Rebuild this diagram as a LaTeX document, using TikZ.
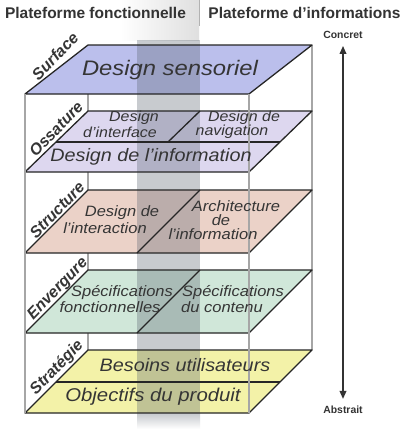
\documentclass[tikz,border=0pt]{standalone}
\usepackage{fontspec}
\setmainfont{Liberation Sans}
\usetikzlibrary{arrows.meta}
\definecolor{surfC}{HTML}{BBBFEC}
\definecolor{ossC}{HTML}{DDD7EF}
\definecolor{strC}{HTML}{EBD2C8}
\definecolor{envC}{HTML}{D0E7D9}
\definecolor{stgC}{HTML}{F3F2A8}
\definecolor{colC}{HTML}{5A6470}
\definecolor{txtC}{HTML}{353535}
\begin{document}
\begin{tikzpicture}[x=1pt,y=-1pt,
  planeline/.style={draw=black!85, line width=1.3pt, line join=round},
  boxline/.style={draw=gray!70, line width=1.4pt},
  ptext/.style={text=txtC, inner sep=0pt, xscale=1.1},
  side/.style={font=\bfseries\itshape\fontsize{16}{16}\selectfont, text=txtC, rotate=46, inner sep=0pt},
  head/.style={font=\bfseries\fontsize{15.5}{16}\selectfont, text=black!80, inner sep=0pt},
  pole/.style={font=\bfseries\fontsize{10.4}{11}\selectfont, text=black!80, inner sep=0pt},
  dblarrow/.style={draw=black!80, line width=1.8pt, {Triangle[length=8pt,width=6.5pt]}-{Triangle[length=8pt,width=6.5pt]}}
]
\useasboundingbox (0,0) rectangle (408,429);
\fill[white] (0,0) rectangle (408,429);
% header grey gradient
\shade[left color=white, right color=gray!25] (120,0) rectangle (199,40);
\draw[gray!60, line width=1pt] (199,0) -- (199,26);
% back box lines
\draw[boxline] (88,45) -- (88,350);
\draw[boxline] (312,45) -- (312,350);
% plane fills
\fill[surfC] (88,45) -- (312,45) -- (249,94) -- (25,94) -- cycle;
\fill[ossC] (88,111) -- (312,111) -- (249,172) -- (25,172) -- cycle;
\fill[strC] (88,190) -- (312,190) -- (249,253) -- (25,253) -- cycle;
\fill[envC] (88,270) -- (312,270) -- (249,333) -- (25,333) -- cycle;
\fill[stgC] (88,350) -- (312,350) -- (249,413) -- (25,413) -- cycle;
% grey column
\fill[colC, opacity=0.33] (137,40) rectangle (200,413);
\shade[top color=colC!35, bottom color=white] (137,413) rectangle (200,429);
% plane outlines
\draw[planeline] (88,45) -- (312,45) -- (249,94) -- (25,94) -- cycle;
\draw[planeline] (88,111) -- (312,111) -- (249,172) -- (25,172) -- cycle;
\draw[planeline] (56,142) -- (280,142);
\draw[planeline] (200,111) -- (168,142);
\draw[planeline] (88,190) -- (312,190) -- (249,253) -- (25,253) -- cycle;
\draw[planeline] (200,190) -- (137,253);
\draw[planeline] (88,270) -- (312,270) -- (249,333) -- (25,333) -- cycle;
\draw[planeline] (200,270) -- (137,333);
\draw[planeline] (88,350) -- (312,350) -- (249,413) -- (25,413) -- cycle;
\draw[planeline] (56,382) -- (280,382);
% front box lines
\draw[boxline] (25,94) -- (25,413);
\draw[boxline] (249,94) -- (249,413);
% header
\node[head] (hf) at (95.5,13) {Plateforme fonctionnelle};
\node[head] (hi) at (304.5,13) {Plateforme d'informations};
% side labels
\node[side] (lsurf) at (55,56) {Surface};
\node[side] (loss) at (56,129) {Ossature};
\node[side] (lstr) at (57,210) {Structure};
\node[side] (lenv) at (58,289) {Envergure};
\node[side] (lstg) at (57,368) {Stratégie};
% plane texts
\node[ptext, font=\itshape\fontsize{21}{21}\selectfont, xscale=1.03] (t1) at (170,70) {Design sensoriel};
\node[ptext, font=\itshape\fontsize{14.5}{15}\selectfont] (t2a) at (134,118) {Design};
\node[ptext, font=\itshape\fontsize{14.5}{15}\selectfont] (t2b) at (120,132) {d'interface};
\node[ptext, font=\itshape\fontsize{14.5}{15}\selectfont] (t3a) at (244,118) {Design de};
\node[ptext, font=\itshape\fontsize{14.5}{15}\selectfont] (t3b) at (232,132) {navigation};
\node[ptext, font=\itshape\fontsize{18}{18}\selectfont] (t4) at (151,157) {Design de l'information};
\node[ptext, font=\itshape\fontsize{15}{15}\selectfont] (t5a) at (122,213) {Design de};
\node[ptext, font=\itshape\fontsize{15}{15}\selectfont] (t5b) at (105,228) {l'interaction};
\node[ptext, font=\itshape\fontsize{15}{15}\selectfont] (t6a) at (236,206) {Architecture};
\node[ptext, font=\itshape\fontsize{15}{15}\selectfont] (t6b) at (221,220) {de};
\node[ptext, font=\itshape\fontsize{15}{15}\selectfont] (t6c) at (213,234) {l'information};
\node[ptext, font=\itshape\fontsize{15}{15}\selectfont] (t7a) at (122,293) {Spécifications};
\node[ptext, font=\itshape\fontsize{15}{15}\selectfont] (t7b) at (110,307) {fonctionnelles};
\node[ptext, font=\itshape\fontsize{15}{15}\selectfont] (t8a) at (233,293) {Spécifications};
\node[ptext, font=\itshape\fontsize{15}{15}\selectfont] (t8b) at (222,307) {du contenu};
\node[ptext, font=\itshape\fontsize{18}{18}\selectfont] (t9) at (185,365) {Besoins utilisateurs};
\node[ptext, font=\itshape\fontsize{18.5}{18.5}\selectfont] (t10) at (153,397) {Objectifs du produit};
% axis
\node[pole] (concret) at (343,35) {Concret};
\node[pole] (abstrait) at (343,410) {Abstrait};
\draw[dblarrow] ([yshift=-7pt]concret.south) -- ([yshift=7pt]abstrait.north);
\end{tikzpicture}
\end{document}
